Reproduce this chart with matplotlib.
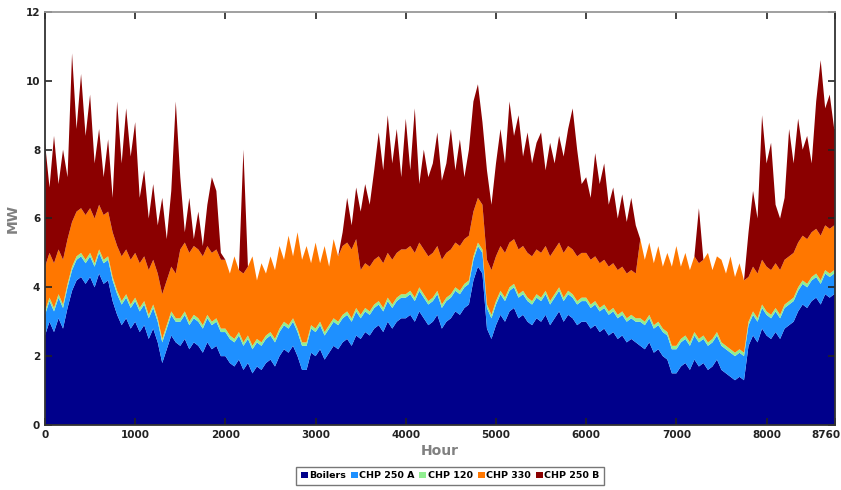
import numpy as np
import matplotlib
matplotlib.use("Agg")
import matplotlib.pyplot as plt
from matplotlib.patches import Patch
from matplotlib.transforms import ScaledTranslation

# Hourly plant dispatch, summarised in 50-hour blocks (block start hour)
hours = list(range(0, 8760, 50))

boilers = [
    2.6, 3.0, 2.7, 3.1, 2.8, 3.4, 3.9, 4.2, 4.3, 4.1,
    4.3, 4.0, 4.4, 4.1, 4.2, 3.6, 3.2, 2.9, 3.1, 2.8,
    3.0, 2.7, 2.9, 2.5, 2.8, 2.4, 1.8, 2.2, 2.6, 2.4,
    2.3, 2.5, 2.2, 2.4, 2.3, 2.1, 2.4, 2.2, 2.3, 2.0,
    2.0, 1.8, 1.7, 1.9, 1.6, 1.8, 1.5, 1.7, 1.6, 1.8,
    1.9, 1.7, 2.0, 2.2, 2.1, 2.3, 2.0, 1.6, 1.6, 2.1,
    2.0, 2.2, 1.9, 2.1, 2.3, 2.2, 2.4, 2.5, 2.3, 2.6,
    2.5, 2.7, 2.6, 2.8, 2.9, 2.7, 3.0, 2.8, 3.0, 3.1,
    3.1, 3.2, 3.0, 3.3, 3.1, 2.9, 3.0, 3.2, 2.8, 3.0,
    3.1, 3.3, 3.2, 3.4, 3.5, 4.2, 4.6, 4.4, 2.8, 2.5,
    2.9, 3.2, 3.0, 3.3, 3.4, 3.1, 3.2, 3.0, 2.9, 3.1,
    3.0, 3.2, 2.9, 3.1, 3.3, 3.0, 3.2, 3.1, 2.9, 3.0,
    3.0, 2.8, 2.9, 2.7, 2.8, 2.6, 2.7, 2.5, 2.6, 2.4,
    2.5, 2.4, 2.3, 2.2, 2.4, 2.1, 2.2, 2.0, 1.9, 1.5,
    1.5, 1.7, 1.8, 1.6, 1.9, 1.7, 1.8, 1.6, 1.7, 1.9,
    1.6, 1.5, 1.4, 1.3, 1.4, 1.3, 2.3, 2.6, 2.4, 2.8,
    2.6, 2.5, 2.7, 2.5, 2.8, 2.9, 3.0, 3.3, 3.5, 3.4,
    3.6, 3.7, 3.5, 3.8, 3.7, 3.8,
]

chp_250a = [
    0.6, 0.6, 0.6, 0.6, 0.6, 0.6, 0.6, 0.6, 0.6, 0.6,
    0.6, 0.6, 0.6, 0.6, 0.6, 0.6, 0.6, 0.6, 0.6, 0.6,
    0.6, 0.6, 0.6, 0.6, 0.6, 0.6, 0.6, 0.6, 0.6, 0.6,
    0.7, 0.7, 0.7, 0.7, 0.7, 0.7, 0.7, 0.7, 0.7, 0.7,
    0.7, 0.7, 0.7, 0.7, 0.7, 0.7, 0.7, 0.7, 0.7, 0.7,
    0.7, 0.7, 0.7, 0.7, 0.7, 0.7, 0.7, 0.7, 0.7, 0.7,
    0.7, 0.7, 0.7, 0.7, 0.7, 0.7, 0.7, 0.7, 0.7, 0.7,
    0.6, 0.6, 0.6, 0.6, 0.6, 0.6, 0.6, 0.6, 0.6, 0.6,
    0.6, 0.6, 0.6, 0.6, 0.6, 0.6, 0.6, 0.6, 0.6, 0.6,
    0.6, 0.6, 0.6, 0.6, 0.6, 0.6, 0.6, 0.6, 0.6, 0.6,
    0.6, 0.6, 0.6, 0.6, 0.6, 0.6, 0.6, 0.6, 0.6, 0.6,
    0.6, 0.6, 0.6, 0.6, 0.6, 0.6, 0.6, 0.6, 0.6, 0.6,
    0.6, 0.6, 0.6, 0.6, 0.6, 0.6, 0.6, 0.6, 0.6, 0.6,
    0.6, 0.6, 0.7, 0.7, 0.7, 0.7, 0.7, 0.7, 0.7, 0.7,
    0.7, 0.7, 0.7, 0.7, 0.7, 0.7, 0.7, 0.7, 0.7, 0.7,
    0.7, 0.7, 0.7, 0.7, 0.7, 0.7, 0.6, 0.6, 0.6, 0.6,
    0.6, 0.6, 0.6, 0.6, 0.6, 0.6, 0.6, 0.6, 0.6, 0.6,
    0.6, 0.6, 0.6, 0.6, 0.6, 0.6,
]

chp_120 = [
    0.1, 0.1, 0.1, 0.1, 0.1, 0.1, 0.1, 0.1, 0.1, 0.1,
    0.1, 0.1, 0.1, 0.1, 0.1, 0.1, 0.1, 0.1, 0.1, 0.1,
    0.1, 0.1, 0.1, 0.1, 0.1, 0.1, 0.1, 0.1, 0.1, 0.1,
    0.1, 0.1, 0.1, 0.1, 0.1, 0.1, 0.1, 0.1, 0.1, 0.1,
    0.1, 0.1, 0.1, 0.1, 0.1, 0.1, 0.1, 0.1, 0.1, 0.1,
    0.1, 0.1, 0.1, 0.1, 0.1, 0.1, 0.1, 0.1, 0.1, 0.1,
    0.1, 0.1, 0.1, 0.1, 0.1, 0.1, 0.1, 0.1, 0.1, 0.1,
    0.1, 0.1, 0.1, 0.1, 0.1, 0.1, 0.1, 0.1, 0.1, 0.1,
    0.1, 0.1, 0.1, 0.1, 0.1, 0.1, 0.1, 0.1, 0.1, 0.1,
    0.1, 0.1, 0.1, 0.1, 0.1, 0.1, 0.1, 0.1, 0.1, 0.1,
    0.1, 0.1, 0.1, 0.1, 0.1, 0.1, 0.1, 0.1, 0.1, 0.1,
    0.1, 0.1, 0.1, 0.1, 0.1, 0.1, 0.1, 0.1, 0.1, 0.1,
    0.1, 0.1, 0.1, 0.1, 0.1, 0.1, 0.1, 0.1, 0.1, 0.1,
    0.1, 0.1, 0.1, 0.1, 0.1, 0.1, 0.1, 0.1, 0.1, 0.1,
    0.1, 0.1, 0.1, 0.1, 0.1, 0.1, 0.1, 0.1, 0.1, 0.1,
    0.1, 0.1, 0.1, 0.1, 0.1, 0.1, 0.1, 0.1, 0.1, 0.1,
    0.1, 0.1, 0.1, 0.1, 0.1, 0.1, 0.1, 0.1, 0.1, 0.1,
    0.1, 0.1, 0.1, 0.1, 0.1, 0.1,
]

chp_330 = [
    1.3, 1.3, 1.3, 1.3, 1.3, 1.3, 1.3, 1.3, 1.3, 1.3,
    1.3, 1.3, 1.3, 1.3, 1.3, 1.3, 1.3, 1.3, 1.3, 1.3,
    1.3, 1.3, 1.3, 1.3, 1.3, 1.3, 1.3, 1.3, 1.3, 1.3,
    2.0, 2.0, 2.0, 2.0, 2.0, 2.0, 2.0, 2.0, 2.0, 2.0,
    2.0, 1.8, 2.4, 1.8, 2.0, 2.0, 2.6, 1.7, 2.3, 1.8,
    2.2, 2.0, 2.4, 1.8, 2.6, 1.8, 2.8, 2.4, 2.8, 1.8,
    2.5, 1.7, 2.5, 1.7, 2.3, 1.9, 2.0, 2.0, 2.0, 2.0,
    1.3, 1.3, 1.3, 1.3, 1.3, 1.3, 1.3, 1.3, 1.3, 1.3,
    1.3, 1.3, 1.3, 1.3, 1.3, 1.3, 1.3, 1.3, 1.3, 1.3,
    1.3, 1.3, 1.3, 1.3, 1.3, 1.3, 1.3, 1.3, 1.3, 1.3,
    1.3, 1.3, 1.3, 1.3, 1.3, 1.3, 1.3, 1.3, 1.3, 1.3,
    1.3, 1.3, 1.3, 1.3, 1.3, 1.3, 1.3, 1.3, 1.3, 1.3,
    1.3, 1.3, 1.3, 1.3, 1.3, 1.3, 1.3, 1.3, 1.3, 1.3,
    1.3, 1.3, 2.3, 1.8, 2.1, 1.8, 2.2, 1.8, 2.3, 2.3,
    2.9, 2.1, 2.4, 2.1, 2.2, 2.2, 2.2, 2.6, 2.0, 2.2,
    2.4, 2.1, 2.7, 2.2, 2.5, 2.1, 1.3, 1.3, 1.3, 1.3,
    1.3, 1.3, 1.3, 1.3, 1.3, 1.3, 1.3, 1.3, 1.3, 1.3,
    1.3, 1.3, 1.3, 1.3, 1.3, 1.3,
]

chp_250b = [
    3.6, 1.9, 3.7, 1.9, 3.2, 1.8, 4.9, 2.4, 3.9, 2.3,
    3.3, 1.6, 2.2, 1.1, 2.1, 1.0, 4.2, 2.7, 4.1, 3.0,
    3.8, 1.9, 2.5, 1.5, 2.2, 1.4, 2.8, 1.2, 2.2, 5.0,
    2.1, 0.3, 1.6, 0.2, 1.1, 0.3, 1.2, 2.2, 1.7, 0.2,
    0.0, 0.0, 0.0, 0.0, 3.6, 0.0, 0.0, 0.0, 0.0, 0.0,
    0.0, 0.0, 0.0, 0.0, 0.0, 0.0, 0.0, 0.0, 0.0, 0.0,
    0.0, 0.0, 0.0, 0.0, 0.0, 0.0, 0.4, 1.3, 0.7, 1.5,
    1.7, 2.3, 1.8, 2.6, 3.6, 2.7, 4.0, 2.8, 3.6, 2.1,
    3.8, 2.2, 4.2, 1.7, 2.9, 2.3, 2.6, 3.3, 2.3, 2.6,
    3.5, 2.1, 3.1, 1.8, 2.5, 3.2, 3.3, 2.4, 2.6, 1.9,
    2.7, 3.4, 2.6, 4.1, 3.0, 3.9, 2.6, 3.5, 2.7, 3.1,
    3.5, 2.2, 3.3, 2.5, 3.1, 2.8, 3.4, 4.1, 3.1, 2.0,
    2.2, 1.8, 3.0, 2.3, 2.8, 1.8, 2.2, 1.5, 2.1, 1.5,
    2.1, 1.4, 0.0, 0.0, 0.0, 0.0, 0.0, 0.0, 0.0, 0.0,
    0.0, 0.0, 0.0, 0.0, 0.0, 1.6, 0.0, 0.0, 0.0, 0.0,
    0.0, 0.0, 0.0, 0.0, 0.0, 0.0, 1.3, 2.2, 1.6, 4.2,
    3.0, 3.7, 1.7, 1.5, 1.8, 3.7, 2.6, 3.6, 2.5, 3.0,
    2.0, 3.7, 5.1, 3.4, 3.9, 2.8,
]

labels = ["Boilers", "CHP 250 A", "CHP 120", "CHP 330", "CHP 250 B"]
colors = ["#00008b", "#1e90ff", "#90ee90", "#ff7700", "#8b0000"]
series = [boilers, chp_250a, chp_120, chp_330, chp_250b]

# close the profile at the end of the year
x = np.append(hours, 8760)
ys = [np.append(s, s[-1]) for s in series]

fig = plt.figure(figsize=(8.41, 4.90), dpi=100)
ax = fig.add_axes([0.0535, 0.1327, 0.9395, 0.8428])

ax.stackplot(x, *ys, colors=colors, linewidth=0)

ax.set_xlim(0, 8760)
ax.set_ylim(0, 12)
ax.set_xticks([0, 1000, 2000, 3000, 4000, 5000, 6000, 7000, 8000, 8760])
ax.set_yticks([0, 2, 4, 6, 8, 10, 12])
ax.tick_params(axis="both", which="both", direction="in", length=5,
               width=1.2, labelsize=7.5, right=True, top=True, colors="#222222")
for lab in ax.get_xticklabels() + ax.get_yticklabels():
    lab.set_fontweight("bold")
# keep the year-end label inside the figure
last = ax.get_xticklabels()[-1]
last.set_transform(last.get_transform() + ScaledTranslation(-9 / 100, 0, fig.dpi_scale_trans))

for side, sp in ax.spines.items():
    sp.set_linewidth(1.3)
    sp.set_color("#999999" if side == "top" else "#333333")

ax.set_xlabel("Hour", fontsize=10, fontweight="bold", color="#808080", labelpad=3)
ax.set_ylabel("MW", fontsize=10, fontweight="bold", color="#808080", labelpad=4)

handles = [Patch(facecolor=c, edgecolor="none") for c in colors]
leg = fig.legend(handles, labels, loc="center", bbox_to_anchor=(0.535, 0.029),
                 ncol=5, frameon=True, fancybox=False,
                 handlelength=0.75, handleheight=0.75, handletextpad=0.15,
                 columnspacing=0.5, borderpad=0.45, borderaxespad=0,
                 prop={"weight": "bold", "size": 6.8})
leg.get_frame().set_edgecolor("#555555")
leg.get_frame().set_linewidth(1.0)

fig.savefig("out.png", dpi=100)
